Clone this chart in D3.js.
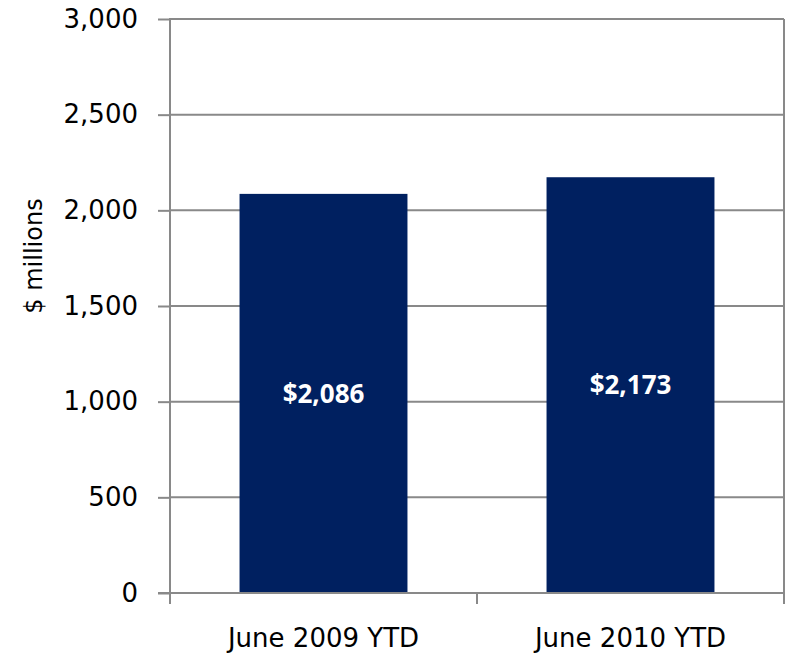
<!DOCTYPE html>
<html>
<head>
<meta charset="utf-8">
<script src="https://cdn.jsdelivr.net/npm/d3@7"></script>
<style>
  body { margin: 0; background: #fff; }
  .eje text { font-family: 'DejaVu Sans', sans-serif; font-size: 26px; fill: #000; }
  .etiqueta { font-family: 'Open Sans', sans-serif; font-weight: bold; font-size: 26px; fill: #fff; }
</style>
</head>
<body>
<div id="graf"></div>
<script>
// Datos
categorias = ['June 2009 YTD', 'June 2010 YTD']
valores = [2086, 2173]
etiquetas = ['$2,086', '$2,173']
ticksY = [0, 500, 1000, 1500, 2000, 2500, 3000]

// Configuración
ancho_total = 789
alto_total = 654
margins = { top: 19, left: 170, right: 5, bottom: 61 }
ancho = ancho_total - margins.left - margins.right
alto = alto_total - margins.top - margins.bottom

gris = '#898989'

svg = d3.select('#graf').append('svg')
        .attr('width', ancho_total)
        .attr('height', alto_total)

g = svg.append('g')
       .attr('transform', `translate(${margins.left}, ${margins.top})`)

y = d3.scaleLinear()
      .domain([0, 3000])
      .range([alto, 0])

x = d3.scaleBand()
      .domain(categorias)
      .range([0, ancho])
      .paddingInner(0.453)
      .paddingOuter(0.2265)

// lineas de rejilla
g.selectAll('.rejilla')
  .data(ticksY.filter(d => d > 0))
  .enter()
  .append('line')
    .attr('class', 'rejilla')
    .attr('x1', 0)
    .attr('x2', ancho)
    .attr('y1', d => y(d))
    .attr('y2', d => y(d))
    .attr('stroke', gris)
    .attr('stroke-width', 2)

// borde derecho
g.append('line')
  .attr('x1', ancho).attr('x2', ancho)
  .attr('y1', y(3000)).attr('y2', y(0))
  .attr('stroke', gris)
  .attr('stroke-width', 2)

// barras
g.selectAll('rect')
  .data(valores)
  .enter()
  .append('rect')
    .attr('x', (d, i) => x(categorias[i]))
    .attr('y', d => y(d))
    .attr('width', x.bandwidth())
    .attr('height', d => alto - y(d))
    .attr('fill', '#002060')

// etiquetas en barras
g.selectAll('.etiqueta')
  .data(valores)
  .enter()
  .append('text')
    .attr('class', 'etiqueta')
    .attr('x', (d, i) => x(categorias[i]) + x.bandwidth() / 2)
    .attr('y', d => (y(d) + alto) / 2)
    .attr('dy', '0.36em')
    .attr('text-anchor', 'middle')
    .text((d, i) => etiquetas[i])

// eje Y
yAxisCall = d3.axisLeft(y)
              .tickValues(ticksY)
              .tickSize(12)
              .tickPadding(20)
              .tickFormat(d3.format(','))
yAxisGroup = g.append('g')
              .attr('class', 'eje')
              .call(yAxisCall)
yAxisGroup.select('.domain').remove()
yAxisGroup.selectAll('.tick line').attr('stroke', gris).attr('stroke-width', 2)
yAxisGroup.append('line')
          .attr('x1', 0).attr('x2', 0)
          .attr('y1', y(3000) - 1).attr('y2', y(0) + 1)
          .attr('stroke', gris)
          .attr('stroke-width', 2)

// eje X
xAxisGroup = g.append('g')
              .attr('class', 'eje')
              .attr('transform', `translate(0, ${alto})`)
              .call(d3.axisBottom(x).tickSize(0).tickPadding(36))
xAxisGroup.select('.domain').remove()
xAxisGroup.append('line')
          .attr('x1', -12).attr('x2', ancho)
          .attr('stroke', gris)
          .attr('stroke-width', 2)
// marcas entre categorias
xAxisGroup.selectAll('.marca')
  .data([0, x.step(), ancho])
  .enter()
  .append('line')
    .attr('class', 'marca')
    .attr('x1', d => d).attr('x2', d => d)
    .attr('y1', 0).attr('y2', 11)
    .attr('stroke', gris)
    .attr('stroke-width', 2)

// titulo eje Y
svg.append('text')
   .attr('transform', `translate(42, ${margins.top + y(1500) - 50}) rotate(-90)`)
   .attr('text-anchor', 'middle')
   .style('font-family', 'DejaVu Sans, sans-serif')
   .style('font-size', '24px')
   .text('$ millions')
</script>
</body>
</html>
